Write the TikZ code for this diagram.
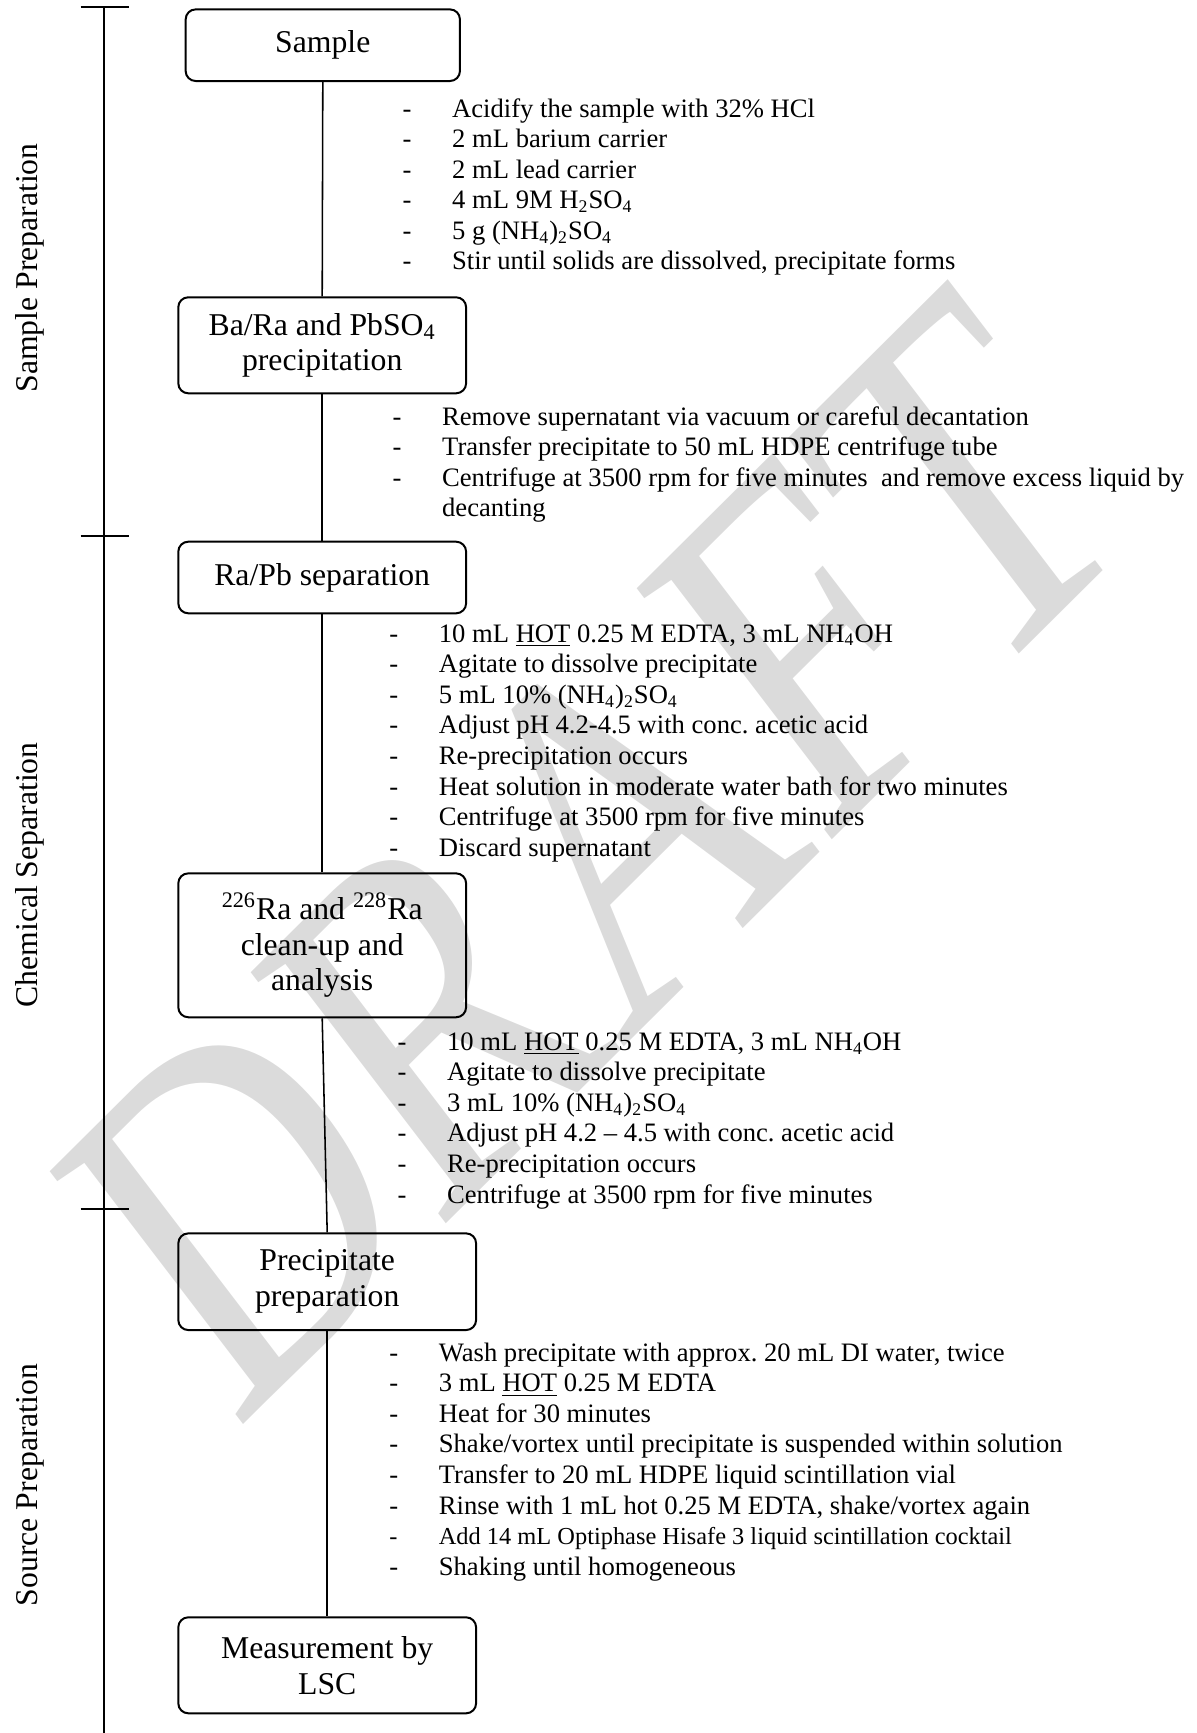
\documentclass[tikz,border=0pt]{standalone}
\usepackage{fontspec}
\setmainfont{Liberation Serif}
\usepackage{tikz}
\usetikzlibrary{positioning}
\usepackage{array}

\newcommand{\smalltxt}{\fontsize{11}{13.8}\selectfont}

\begin{document}
\begin{tikzpicture}[x=0.451pt,y=-0.451pt,
	wmark/.style={text=black!14, cm={0.835,0.830,-0.888,1.161,(0,0)}, inner sep=0pt, font=\fontsize{150}{150}\selectfont},
	stage/.style={rotate=90, inner sep=0pt, font=\fontsize{14.3}{16}\selectfont},
	box/.style={draw, line width=0.9pt, rounded corners=4.5pt, align=center, inner sep=0pt, font=\fontsize{14.3}{16.1}\selectfont},
	steps/.style={anchor=base west, inner sep=0pt, font=\fontsize{12}{13.8}\selectfont},
	link/.style={line width=0.7pt},
	axis/.style={line width=0.9pt}]
\useasboundingbox (0,0) rectangle (1196,1733);

% watermark
\node[wmark] (draft) at (594,853) {DRAFT};

% stage bar on the left
\coordinate (axtop) at (104.3,7.3);
\coordinate (axbot) at (104.3,1733);
\draw[axis] (axtop) -- (axbot);
\foreach \y [count=\i] in {7.3,536,1209.3}{
	\coordinate (tl\i) at (80.7,\y);
	\coordinate (tr\i) at (129.3,\y);
	\draw[axis] (tl\i) -- (tr\i);
}
\node[stage] (prep) at (30,268) {Sample Preparation};
\node[stage] (chem) at (30,875) {Chemical Separation};
\node[stage] (source) at (30,1485) {Source Preparation};

% boxes
\node[box, minimum width=123.7pt, minimum height=32.3pt] (sample) at (322.8,45.2) {Sample};
\node[box, minimum width=129.8pt, minimum height=43.3pt] (bara) at (322.2,345.3) {Ba/Ra and PbSO\textsubscript{4}\\precipitation};
\node[box, minimum width=129.8pt, minimum height=32.3pt] (rapb) at (322.2,577.5) {Ra/Pb separation};
\node[box, minimum width=129.8pt, minimum height=64.9pt] (ra226) at (322.2,945.3) {\textsuperscript{226}Ra and \textsuperscript{228}Ra\\clean-up and\\analysis};
\node[box, minimum width=134.3pt, minimum height=43.6pt] (precip) at (327.2,1281.7) {Precipitate\\preparation};
\node[box, minimum width=134.3pt, minimum height=43.3pt] (lsc) at (327.2,1665.3) {Measurement by\\LSC};

\draw[link] (sample.south) -- (bara.north);
\draw[link] (bara.south) -- (rapb.north);
\draw[link] (rapb.south) -- (ra226.north);
\draw[link] (ra226.south) -- (precip.north);
\draw[link] (precip.south) -- (lsc.north);

% step lists
\node[steps] (list1) at (402.3,117) {\begin{tabular}[t]{@{}p{22.3pt}@{}l@{}}
	- & Acidify the sample with 32\% HCl\\
	- & 2 mL barium carrier\\
	- & 2 mL lead carrier\\
	- & 4 mL 9M H\textsubscript{2}SO\textsubscript{4}\\
	- & 5 g (NH\textsubscript{4})\textsubscript{2}SO\textsubscript{4}\\
	- & Stir until solids are dissolved, precipitate forms
\end{tabular}};
\node[steps] (list2) at (392.3,425) {\begin{tabular}[t]{@{}p{22.3pt}@{}l@{}}
	- & Remove supernatant via vacuum or careful decantation\\
	- & Transfer precipitate to 50 mL HDPE centrifuge tube\\
	- & Centrifuge at 3500 rpm for five minutes\ \ and remove excess liquid by\\
	& decanting
\end{tabular}};
\node[steps] (list3) at (389,642) {\begin{tabular}[t]{@{}p{22.3pt}@{}l@{}}
	- & 10 mL \underline{HOT} 0.25 M EDTA, 3 mL NH\textsubscript{4}OH\\
	- & Agitate to dissolve precipitate\\
	- & 5 mL 10\% (NH\textsubscript{4})\textsubscript{2}SO\textsubscript{4}\\
	- & Adjust pH 4.2-4.5 with conc.\ acetic acid\\
	- & Re-precipitation occurs\\
	- & Heat solution in moderate water bath for two minutes\\
	- & Centrifuge at 3500 rpm for five minutes\\
	- & Discard supernatant
\end{tabular}};
\node[steps] (list4) at (397.3,1050) {\begin{tabular}[t]{@{}p{22.3pt}@{}l@{}}
	- & 10 mL \underline{HOT} 0.25 M EDTA, 3 mL NH\textsubscript{4}OH\\
	- & Agitate to dissolve precipitate\\
	- & 3 mL 10\% (NH\textsubscript{4})\textsubscript{2}SO\textsubscript{4}\\
	- & Adjust pH 4.2 -- 4.5 with conc.\ acetic acid\\
	- & Re-precipitation occurs\\
	- & Centrifuge at 3500 rpm for five minutes
\end{tabular}};
\node[steps] (list5) at (389,1361) {\begin{tabular}[t]{@{}p{22.3pt}@{}l@{}}
	- & Wash precipitate with approx.\ 20 mL DI water, twice\\
	- & 3 mL \underline{HOT} 0.25 M EDTA\\
	- & Heat for 30 minutes\\
	- & Shake/vortex until precipitate is suspended within solution\\
	- & Transfer to 20 mL HDPE liquid scintillation vial\\
	- & Rinse with 1 mL hot 0.25 M EDTA, shake/vortex again\\
	\smalltxt - & \smalltxt Add 14 mL Optiphase Hisafe 3 liquid scintillation cocktail\\
	- & Shaking until homogeneous
\end{tabular}};
\end{tikzpicture}
\end{document}
